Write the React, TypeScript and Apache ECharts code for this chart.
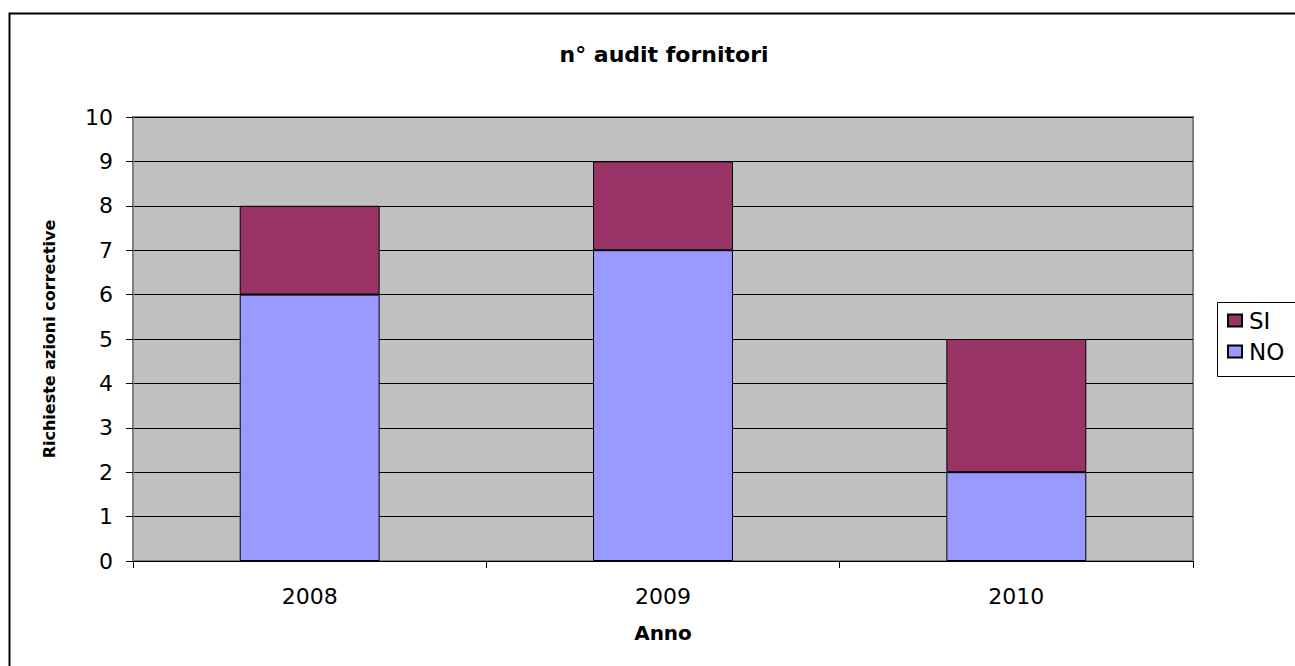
import React, { useEffect, useRef } from "react";
import * as echarts from "echarts";

const categories = ["2008", "2009", "2010"];
const valuesNO = [6, 7, 2];
const valuesSI = [2, 2, 3];
const legendOrder = ["SI", "NO"];

const FONT = "'DejaVu Sans', sans-serif";

export default function App() {
  const ref = useRef<HTMLDivElement>(null);
  useEffect(() => {
    if (!ref.current) return;
    const chart = echarts.init(ref.current, undefined, { renderer: "svg" });
    chart.setOption({
      animation: false,
      backgroundColor: "#ffffff",
      textStyle: { fontFamily: FONT, color: "#000" },
      title: {
        text: "n° audit fornitori",
        left: 659,
        textAlign: "center",
        top: 38,
        textStyle: { fontFamily: FONT, fontSize: 22, fontWeight: "bold", color: "#000" },
      },
      graphic: [
        {
          type: "rect",
          shape: { x: 9.5, y: 13.5, width: 1400, height: 800 },
          style: { fill: "none", stroke: "#000", lineWidth: 2 },
          silent: true,
          z: 100,
        },
        {
          type: "rect",
          shape: { x: 1217.5, y: 302.5, width: 120, height: 74 },
          style: { fill: "#fff", stroke: "#000", lineWidth: 1 },
          silent: true,
          z: 1,
        },
      ],
      legend: {
        data: legendOrder,
        orient: "vertical",
        left: 1222,
        top: 304,
        itemWidth: 14,
        itemHeight: 12,
        itemGap: 8,
        icon: "rect",
        textStyle: { fontFamily: FONT, fontSize: 23, color: "#000", padding: [0, 0, 0, 2] },
        z: 10,
      },
      grid: {
        left: 133,
        top: 117,
        right: 102,
        bottom: 105,
        show: true,
        backgroundColor: "#C0C0C0",
        borderColor: "#808080",
        borderWidth: 2,
      },
      xAxis: {
        type: "category",
        data: categories,
        boundaryGap: true,
        name: "Anno",
        nameLocation: "middle",
        nameGap: 62,
        nameTextStyle: { fontFamily: FONT, fontSize: 20, fontWeight: "bold", color: "#000", verticalAlign: "top" },
        axisLine: { show: true, lineStyle: { color: "#000", width: 1 } },
        axisTick: { show: true, length: 7, lineStyle: { color: "#000" } },
        axisLabel: { margin: 24, fontFamily: FONT, fontSize: 22, color: "#000", verticalAlign: "top" },
        splitLine: { show: false },
      },
      yAxis: {
        type: "value",
        min: 0,
        max: 10,
        interval: 1,
        name: "Richieste azioni corrective",
        nameLocation: "middle",
        nameGap: 76,
        nameTextStyle: { fontFamily: FONT, fontSize: 16, fontWeight: "bold", color: "#000" },
        axisLine: { show: true, lineStyle: { color: "#808080", width: 2 } },
        axisTick: { show: true, length: 7, lineStyle: { color: "#000" } },
        axisLabel: { margin: 20, fontFamily: FONT, fontSize: 22, color: "#000" },
        splitLine: { show: true, lineStyle: { color: "#000", width: 1 } },
      },
      series: [
        {
          name: "NO",
          type: "bar",
          stack: "total",
          data: valuesNO,
          barWidth: "39.6%",
          itemStyle: { color: "#9999FF", borderColor: "#000", borderWidth: 1 },
        },
        {
          name: "SI",
          type: "bar",
          stack: "total",
          data: valuesSI,
          barWidth: "39.6%",
          itemStyle: { color: "#993366", borderColor: "#000", borderWidth: 1 },
        },
      ],
    });
    return () => chart.dispose();
  }, []);
  return (
    <div
      ref={ref}
      style={{ position: "fixed", left: 0, top: 0, width: 1295, height: 666 }}
    />
  );
}
